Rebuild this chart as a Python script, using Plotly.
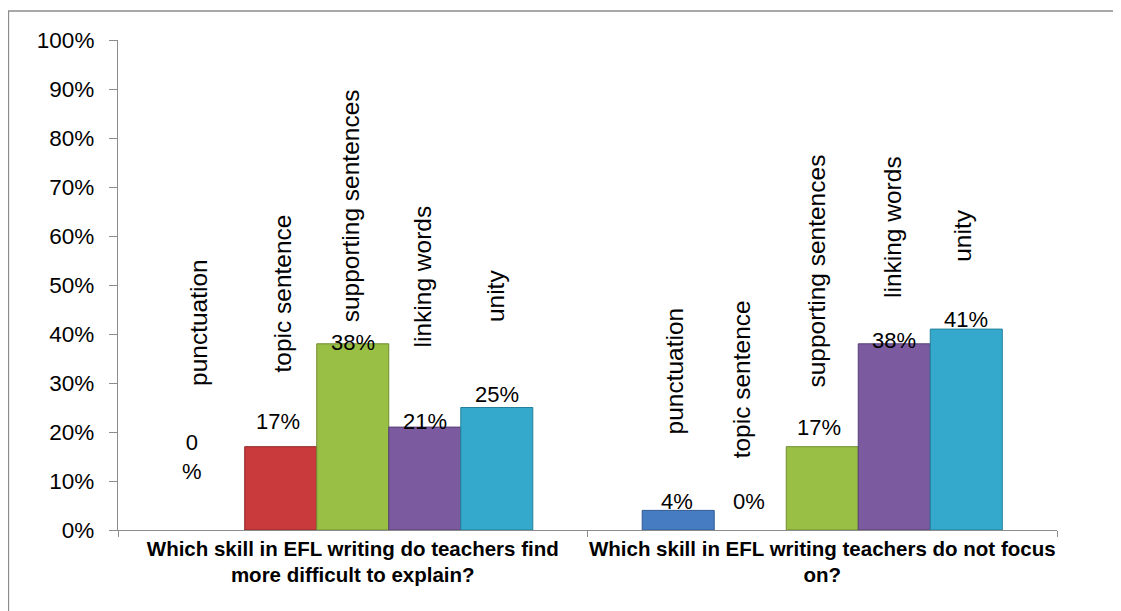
import plotly.graph_objects as go

# ---------------- data ----------------
questions = [
    "Which skill in EFL writing do teachers find<br>more difficult to explain?",
    "Which skill in EFL writing teachers do not focus<br>on?",
]
skills = ["punctuation", "topic sentence", "supporting sentences", "linking words", "unity"]
q1_values = [0, 17, 38, 21, 25]   # % per skill, first question
q2_values = [4, 0, 17, 38, 41]    # % per skill, second question
value_text_q1 = ["0<br>%", "17%", "38%", "21%", "25%"]
value_text_q2 = ["4%", "0%", "17%", "38%", "41%"]
y_ticks = [0, 10, 20, 30, 40, 50, 60, 70, 80, 90, 100]
y_tick_text = ["0%", "10%", "20%", "30%", "40%", "50%", "60%", "70%", "80%", "90%", "100%"]

# label placement (in % units on the y axis)
value_label_y_q1 = [14.8, 22.2, 38.2, 22.2, 27.6]
value_label_y_q2 = [5.9, 5.9, 21.0, 38.6, 42.9]
name_label_y_q1 = [42.4, 48.2, 66.2, 51.7, 47.9]
name_label_y_q2 = [32.4, 30.8, 52.8, 61.9, 60.1]
name_dx_q1 = [-10, 2, -2, -2, -2]
name_dx_q2 = [-4, -9, -6, -2, -4]
value_dx_q1 = [-17, -3, 0, 0, 0]
value_dx_q2 = [-1, -1, -3, 0, 0]

colors = ["#467CC2", "#C93A3C", "#99BF45", "#7B5AA0", "#35A9CB"]
edge_colors = ["#2F5A92", "#8E2627", "#6E8C2E", "#573F75", "#23809C"]

# ---------------- figure ----------------
OFF = 8                      # page body margin of the browser
VW, VH = 1121, 611           # viewport
W, H = VW - OFF, VH - OFF
PL, PR, PT, PB = 118, 1057, 40, 530   # plot area in viewport pixels
L, T = PL - OFF, PT - OFF
R = W + OFF - PR
B = H + OFF - PB
BARGAP = 0.233
FONT = "Liberation Sans"

fig = go.Figure()
for i, s in enumerate(skills):
    yv = [q1_values[i], q2_values[i]]
    fig.add_trace(go.Bar(
        x=questions, y=yv, name=s,
        marker=dict(color=colors[i],
                    line=dict(color=edge_colors[i], width=[1 if v > 0 else 0 for v in yv])),
        hoverinfo="name+y",
    ))

n = len(skills)
bw = (1 - BARGAP) / n
annotations = []
for g, (vals_txt, vy, ny, ndx, vdx) in enumerate([
        (value_text_q1, value_label_y_q1, name_label_y_q1, name_dx_q1, value_dx_q1),
        (value_text_q2, value_label_y_q2, name_label_y_q2, name_dx_q2, value_dx_q2)]):
    for i, s in enumerate(skills):
        xc = g + (i - (n - 1) / 2) * bw
        annotations.append(dict(
            x=xc, y=vy[i], xref="x", yref="y", text=vals_txt[i], showarrow=False,
            xanchor="center", yanchor="middle", xshift=vdx[i],
            font=dict(family=FONT, size=22, color="#000000"),
        ))
        annotations.append(dict(
            x=xc, y=ny[i], xref="x", yref="y", text=s, showarrow=False,
            textangle=-90, xanchor="center", yanchor="middle", xshift=ndx[i],
            font=dict(family=FONT, size=24.5, color="#000000"),
        ))

def px_x(p):
    return (p - PL) / (PR - PL)
def px_y(p):
    return (PB - p) / (PB - PT)

fig.update_layout(
    width=W, height=H,
    margin=dict(l=L, r=R, t=T, b=B, pad=0, autoexpand=False),
    barmode="group", bargap=BARGAP, bargroupgap=0,
    showlegend=False,
    paper_bgcolor="white", plot_bgcolor="white",
    font=dict(family=FONT, color="#000000"),
    annotations=annotations,
    shapes=[dict(type="rect", xref="paper", yref="paper",
                 x0=px_x(8.5), x1=px_x(1160), y0=px_y(660), y1=px_y(11),
                 line=dict(color="#8C8C8C", width=1.3), fillcolor="rgba(0,0,0,0)",
                 layer="below")],
)
fig.update_xaxes(
    type="category", showline=True, linecolor="#8C8C8C", linewidth=1.2,
    ticks="outside", tickson="boundaries", ticklen=6, tickcolor="#8C8C8C",
    tickangle=0, automargin=False,
    tickfont=dict(family=FONT, size=20.5, weight="bold", color="#000000"),
    showgrid=False, zeroline=False,
)
fig.update_yaxes(
    range=[0, 100], tickmode="array", tickvals=y_ticks, ticktext=y_tick_text,
    showline=True, linecolor="#8C8C8C", linewidth=1.2, automargin=False,
    ticks="outside", ticklen=8, tickcolor="#8C8C8C", ticklabelstandoff=10,
    tickfont=dict(family=FONT, size=22.5, color="#000000"),
    showgrid=False, zeroline=False,
)

fig.write_html("out.html")
